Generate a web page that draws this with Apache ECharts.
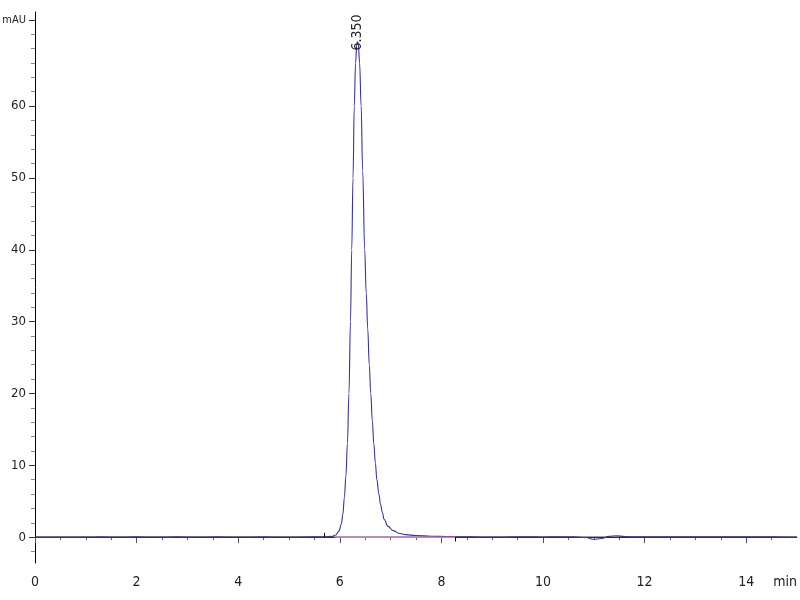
<!DOCTYPE html>
<html>
<head>
<meta charset="utf-8">
<script src="https://cdn.jsdelivr.net/npm/echarts@6/dist/echarts.min.js"></script>
<style>
  html, body { margin: 0; padding: 0; background: #fff; }
  #chart { width: 800px; height: 600px; }
</style>
</head>
<body>
<div id="chart"></div>
<script>
  // retention time (min) and absorbance (mAU)
  var times = [0, 0.5, 1.0, 1.3, 1.6, 2.0, 2.4, 2.8, 3.2, 3.6, 4.0, 4.5, 5.0, 5.4, 5.7,
    5.85, 5.92, 5.98, 6.03, 6.06, 6.09, 6.12, 6.15, 6.18, 6.21, 6.235, 6.26, 6.285, 6.31,
    6.335, 6.35, 6.365, 6.39, 6.42, 6.45, 6.49, 6.52, 6.55, 6.58, 6.61, 6.64, 6.67, 6.70,
    6.73, 6.77, 6.80, 6.84, 6.87, 6.95, 7.05, 7.16, 7.3, 7.5, 7.8, 8.1, 8.3, 8.6, 9.0, 9.4,
    9.7, 10.0, 10.3, 10.6, 10.85, 11.0, 11.15, 11.3, 11.45, 11.6, 11.9, 12.3, 12.8, 13.4,
    14.0, 14.5, 15.0];
  var signal = [0, 0, 0, 0.03, 0.02, 0.03, 0.01, 0.03, 0.02, 0.03, 0.02, 0.03, 0.02, 0.03, 0.04,
    0.1, 0.3, 0.8, 1.8, 3.2, 5.5, 8.5, 13, 20, 30, 40, 50, 60, 66,
    68.6, 69.0, 68.6, 66, 60, 51, 40, 34, 29, 24, 20, 16.2, 13, 10.3,
    8, 6, 4.6, 3.4, 2.5, 1.5, 0.9, 0.55, 0.35, 0.22, 0.12, 0.08, 0.05, 0.03, 0.02, 0.03,
    0.06, 0.02, 0.05, 0.03, -0.05, -0.3, -0.2, 0.1, 0.2, 0.08, 0.03, 0.04, 0.04, 0.04,
    0.04, 0.04, 0.0];

  var peakTime = 6.35;
  var peakHeight = 69.0;
  var peakLabel = '6.350';
  var baseStart = 5.9;
  var baseEnd = 8.28;
  var eventStart = 5.7;
  var eventEnd = 8.28;

  var yMajor = [0, 10, 20, 30, 40, 50, 60, 72];
  var yMinor = [-2, 2, 4, 6, 8, 12, 14, 16, 18, 22, 24, 26, 28, 32, 34, 36, 38, 42, 44, 46, 48,
    52, 54, 56, 58, 62, 64, 66, 68, 70];
  var xMajor = [0, 2, 4, 6, 8, 10, 12, 14];
  var xLabels = [0, 2, 4, 6, 8, 10, 12, 14, 15];
  var xMinor = [0.5, 1, 1.5, 2.5, 3, 3.5, 4.5, 5, 5.5, 6.5, 7, 7.5, 8.5, 9, 9.5, 10.5, 11, 11.5,
    12.5, 13, 13.5, 14.5];

  var font = '"DejaVu Sans Condensed", "Liberation Sans Narrow", sans-serif';
  var data = [];
  for (var i = 0; i < times.length; i++) {
    data.push([times[i], signal[i]]);
  }

  var chart = echarts.init(document.getElementById('chart'));
  chart.setOption({
    animation: false,
    grid: { left: 35, right: 3, top: 12, bottom: 37, outerBoundsMode: 'none', containLabel: false },
    xAxis: [
      {
        type: 'value', min: 0, max: 15,
        axisLine: { lineStyle: { color: '#808080', width: 1 } },
        axisTick: { customValues: xMajor, length: 6, lineStyle: { color: '#555' } },
        axisLabel: {
          customValues: xLabels, margin: 12, color: '#222', fontFamily: font, fontSize: 14,
          alignMaxLabel: 'right',
          formatter: function (v) { return v === 15 ? 'min' : String(v); }
        },
        splitLine: { show: false }
      },
      {
        type: 'value', min: 0, max: 15, position: 'bottom',
        axisLine: { show: false },
        axisTick: { customValues: xMinor, length: 3, lineStyle: { color: '#666' } },
        axisLabel: { show: false },
        splitLine: { show: false }
      }
    ],
    yAxis: [
      {
        type: 'value', min: -3.6, max: 73.1,
        axisLine: { show: true, lineStyle: { color: '#000', width: 1 } },
        axisTick: { customValues: yMajor, length: 6, lineStyle: { color: '#333' } },
        axisLabel: {
          customValues: yMajor, margin: 9, color: '#222', fontFamily: font, fontSize: 13,
          formatter: function (v) { return v === 72 ? '{u|mAU}' : String(v); },
          rich: { u: { fontFamily: font, fontSize: 11, color: '#222' } }
        },
        splitLine: { show: false }
      },
      {
        type: 'value', min: -3.6, max: 73.1, position: 'left',
        axisLine: { show: false },
        axisTick: { customValues: yMinor, length: 4, lineStyle: { color: '#888' } },
        axisLabel: { show: false },
        splitLine: { show: false }
      }
    ],
    series: [
      {
        name: 'zero',
        type: 'line',
        data: [[0, 0], [15, 0]],
        symbol: 'none',
        z: 1,
        lineStyle: { color: '#000', width: 1 }
      },
      {
        name: 'signal',
        type: 'line',
        data: data,
        symbol: 'none',
        smooth: 0.4,
        smoothMonotone: 'x',
        z: 2,
        lineStyle: { color: '#34349a', width: 1.1 },
        markPoint: {
          symbol: 'circle',
          symbolSize: 0,
          data: [{ coord: [peakTime, peakHeight] }],
          label: {
            show: true,
            formatter: peakLabel,
            rotate: 90,
            position: [0, 9],
            align: 'left',
            verticalAlign: 'middle',
            color: '#222',
            fontFamily: font,
            fontSize: 14
          }
        }
      },
      {
        name: 'baseline',
        type: 'line',
        data: [[baseStart, 0], [baseEnd, 0]],
        symbol: 'none',
        z: 3,
        lineStyle: { color: '#e070d8', width: 1.5 }
      },
      {
        name: 'events',
        type: 'line',
        data: [],
        markLine: {
          symbol: 'none',
          silent: true,
          label: { show: false },
          lineStyle: { color: '#000', width: 1, type: 'solid' },
          data: [
            [{ coord: [eventStart, 0] }, { coord: [eventStart, 0.6] }],
            [{ coord: [eventEnd, 0] }, { coord: [eventEnd, -0.6] }]
          ]
        }
      }
    ]
  });
</script>
</body>
</html>
